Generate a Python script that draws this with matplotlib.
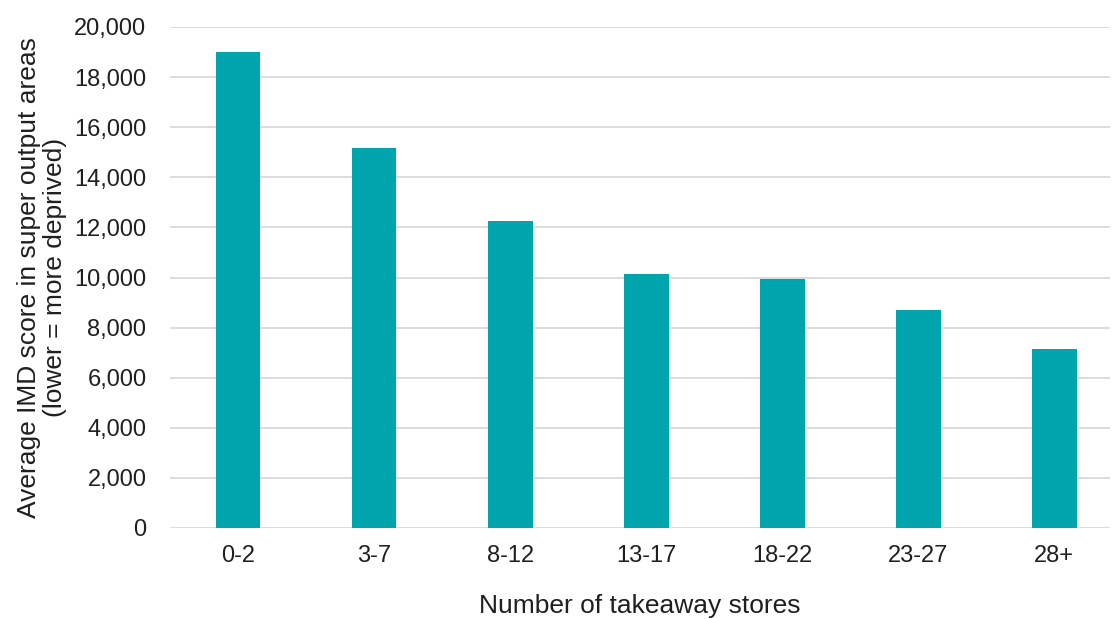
import matplotlib
matplotlib.use("Agg")
import matplotlib.pyplot as plt
from matplotlib.ticker import FuncFormatter

# takeaway store bands and average IMD score
bands = ["0-2", "3-7", "8-12", "13-17", "18-22", "23-27", "28+"]
imd_score = [19000, 15150, 12270, 10120, 9940, 8690, 7160]
y_ticks = list(range(0, 20001, 2000))

plt.rcParams['font.family'] = ['Liberation Sans', 'DejaVu Sans']
text_color = "#1f1f1f"

fig = plt.figure(figsize=(11.15, 6.19), dpi=100)
ax = fig.add_axes([170 / 1115, 1 - 528 / 619, (1110 - 170) / 1115, (528 - 27) / 619])

x = range(len(bands))
ax.bar(x, imd_score, width=0.33, color="#00A4AC", zorder=3)

ax.set_ylim(0, 20000)
ax.set_xlim(-0.5, 6.41)
ax.set_yticks(y_ticks)
ax.yaxis.set_major_formatter(FuncFormatter(lambda v, p: f"{int(v):,}"))
ax.set_xticks(list(x))
ax.set_xticklabels(bands)
ax.grid(axis="y", color="#d9d9d9", linewidth=1.3, zorder=0)
ax.tick_params(axis="both", length=0, colors=text_color, labelsize=17)
ax.tick_params(axis="y", pad=17)
ax.tick_params(axis="x", pad=12.5)
for s in ax.spines.values():
    s.set_visible(False)

ax.set_xlabel("Number of takeaway stores", color=text_color, fontsize=19, labelpad=19)
ax.set_ylabel("Average IMD score in super output areas\n(lower = more deprived)",
              color=text_color, fontsize=19, linespacing=1.12)
ax.yaxis.set_label_coords(-103 / 940, 0.5)

fig.savefig("out.png", dpi=100)
